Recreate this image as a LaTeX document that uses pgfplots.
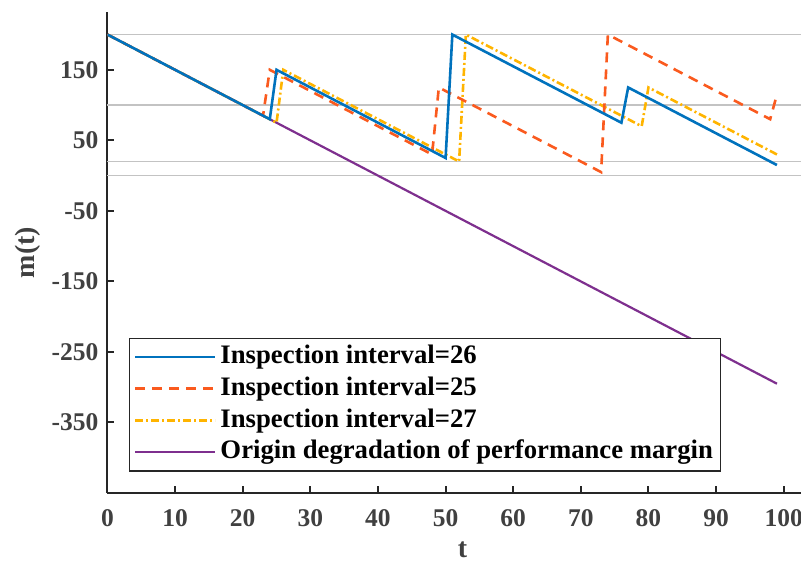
\documentclass[border=0pt]{standalone}
\usepackage{pgfplots}
\pgfplotsset{compat=1.18}
\usepackage{fontspec}
\setmainfont{Liberation Serif}
\definecolor{c26}{RGB}{0,114,189}
\definecolor{c25}{RGB}{250,90,30}
\definecolor{c27}{RGB}{255,180,0}
\definecolor{corig}{RGB}{126,47,142}
\definecolor{axgray}{RGB}{38,38,38}
\definecolor{tkgray}{RGB}{64,64,64}
\definecolor{gridgray}{RGB}{195,195,195}
\tikzset{
 s26/.style={color=c26, line width=1.3bp, solid},
 s25/.style={color=c25, line width=1.3bp, dash pattern=on 5bp off 3.5bp},
 s27/.style={color=c27, line width=1.3bp, dash pattern=on 4bp off 1.5bp on 1bp off 1.5bp},
 sorig/.style={color=corig, line width=1.1bp, solid},
}
\begin{document}
\begin{tikzpicture}
\begin{axis}[
 scale only axis, width=355bp, height=240.5bp,
 xmin=0, xmax=105, ymin=-450, ymax=232,
 axis lines*=left,
 axis line style={axgray, line width=1bp, -},
 tick align=inside, major tick length=3.3bp,
 tick style={axgray, line width=1bp},
 xtick={0,10,...,100}, ytick={-350,-250,...,150},
 /pgf/number format/assume math mode=true,
 ticklabel style={font=\fontsize{12.8}{12.8}\selectfont\bfseries, text=tkgray},
 xticklabel style={yshift=-4.6bp},
 yticklabel style={xshift=-1.1bp},
 extra y ticks={0,20,100,200}, extra y tick labels={},
 extra y tick style={grid=major, major tick length=0pt},
 major grid style={gridgray, line width=0.8bp},
 xlabel={t}, ylabel={m(t)},
 label style={font=\fontsize{14}{14}\selectfont\bfseries, text=tkgray},
 xlabel style={at={(axis description cs:0.5,0)}, anchor=center, yshift=-28.5bp},
 ylabel style={at={(axis description cs:0,0.5)}, anchor=center, rotate=0, yshift=40bp},
 legend style={at={(rel axis cs:0.0307,0.0443)}, anchor=south west, draw=axgray, line width=0.6bp,
   inner xsep=2bp, inner ysep=1.4bp, font=\fontsize{13.4}{13.4}\selectfont\bfseries,
   nodes={inner xsep=2bp, inner ysep=1.7bp, text height=9.5bp, text depth=3bp}, row sep=0pt},
 legend cell align=left,
 legend image code/.code={\draw[#1] (0bp,0bp) -- (40bp,0bp);},
]
\addplot[sorig, forget plot] coordinates {(0,200) (99,-295)};
\addplot[s27, forget plot] coordinates {(0,200) (25,75) (26,150) (52,20) (53,200) (79,70) (80,125) (99,30)};
\addplot[s25, forget plot] coordinates {(0,200) (23,85) (24,150) (48,30) (49,125) (73,5) (74,200) (98,80) (99,115)};
\addplot[s26, forget plot] coordinates {(0,200) (24,80) (25,150) (50,25) (51,200) (76,75) (77,125) (99,15)};
\addlegendimage{s26}\addlegendentry{Inspection interval=26}
\addlegendimage{s25}\addlegendentry{Inspection interval=25}
\addlegendimage{s27}\addlegendentry{Inspection interval=27}
\addlegendimage{sorig}\addlegendentry{Origin degradation of performance margin}
\end{axis}
\pgfresetboundingbox
\useasboundingbox ([shift={(-53.75bp,-38bp)}]current axis.south west) rectangle ([shift={(-8.25bp,6bp)}]current axis.north east);
\end{tikzpicture}
\end{document}
